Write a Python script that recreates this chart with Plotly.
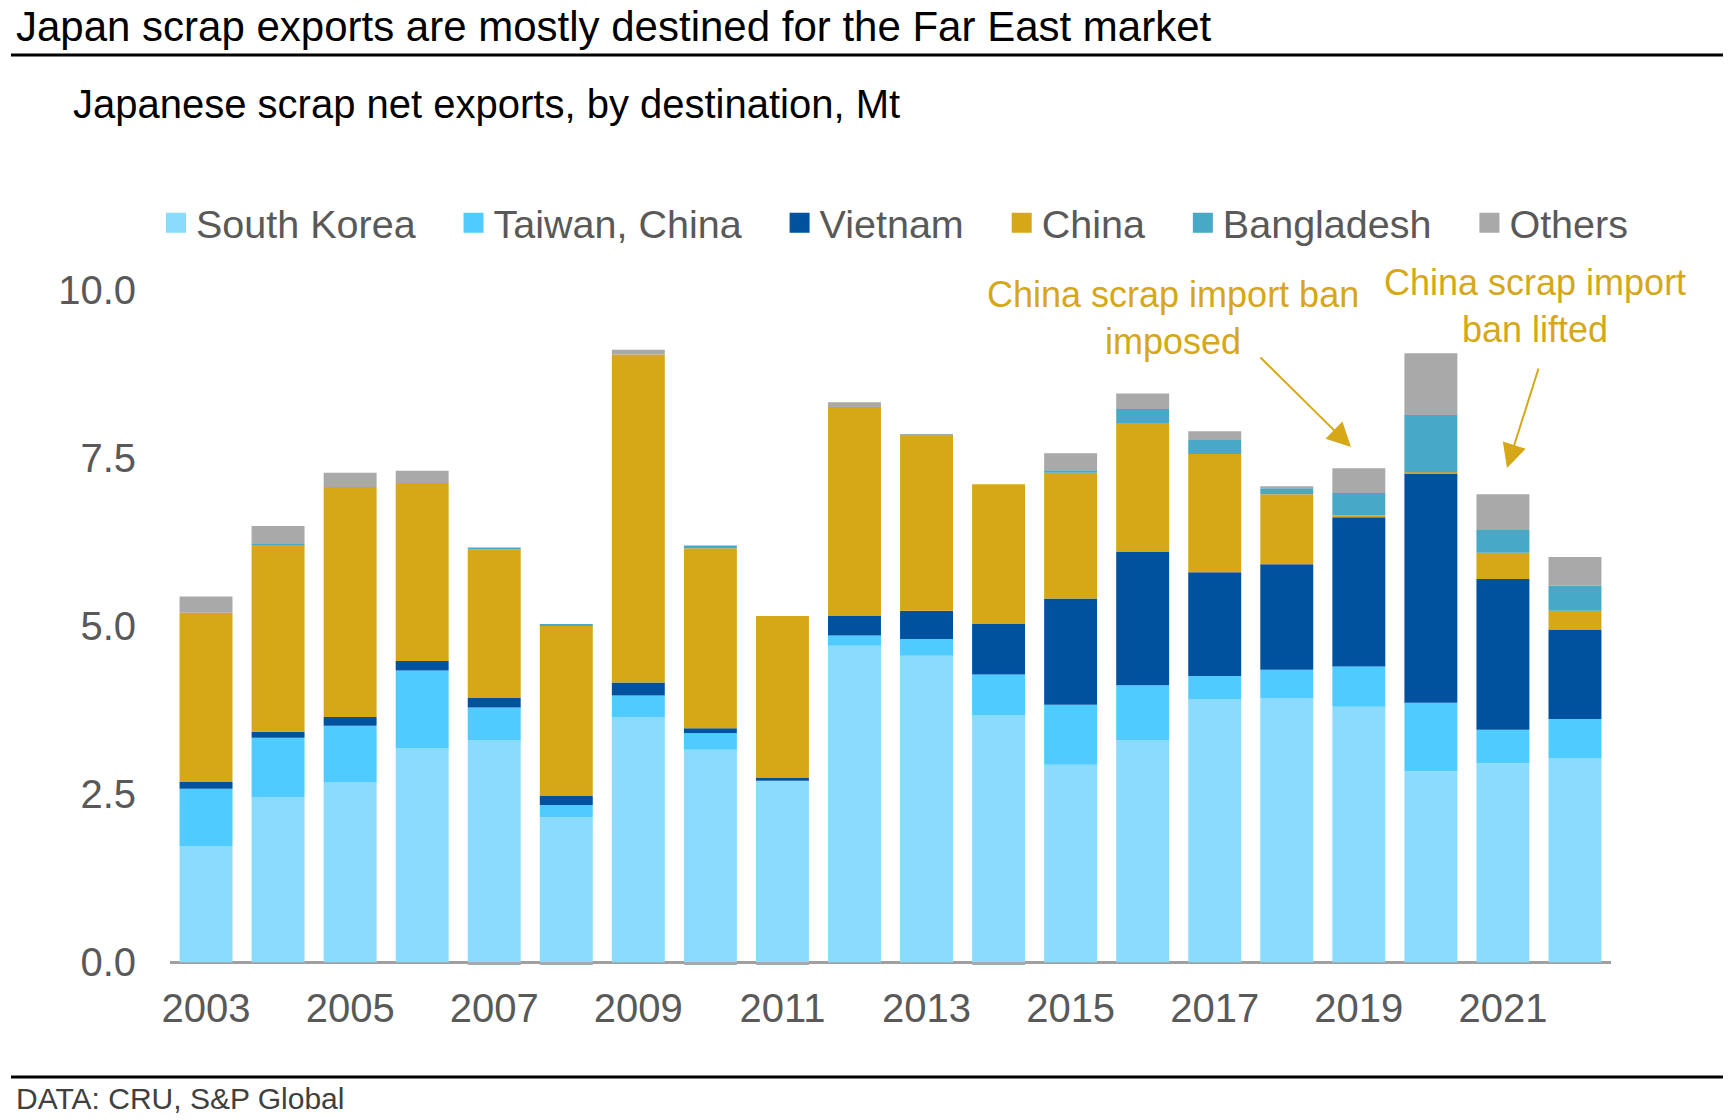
import plotly.graph_objects as go

# Japanese scrap net exports by destination, Mt
years = [str(y) for y in range(2003, 2023)]
south_korea = [1.73, 2.45, 2.68, 3.18, 3.30, 2.16, 3.64, 3.16, 2.70, 4.71,
               4.56, 3.68, 2.94, 3.30, 3.91, 3.93, 3.80, 2.84, 2.96, 3.03]
taiwan = [0.85, 0.89, 0.84, 1.16, 0.49, 0.18, 0.33, 0.25, 0.00, 0.15,
          0.25, 0.60, 0.89, 0.82, 0.35, 0.42, 0.60, 1.02, 0.50, 0.59]
vietnam = [0.10, 0.09, 0.13, 0.14, 0.15, 0.14, 0.19, 0.07, 0.05, 0.29,
           0.42, 0.75, 1.58, 1.99, 1.54, 1.57, 2.22, 3.41, 2.24, 1.33]
china = [2.52, 2.78, 3.42, 2.65, 2.20, 2.53, 4.88, 2.68, 2.40, 3.11,
         2.60, 2.08, 1.87, 1.91, 1.76, 1.04, 0.03, 0.02, 0.39, 0.28]
bangladesh = [0.00, 0.01, 0.00, 0.00, 0.03, 0.02, 0.00, 0.04, 0.00, 0.00,
              0.00, 0.00, 0.04, 0.21, 0.21, 0.09, 0.33, 0.85, 0.34, 0.37]
others = [0.24, 0.27, 0.21, 0.18, -0.04, -0.04, 0.07, -0.04, -0.04, 0.07,
          0.02, -0.04, 0.25, 0.23, 0.13, 0.03, 0.37, 0.92, 0.53, 0.43]

series = [
    ("South Korea", south_korea, "#8BDBFF"),
    ("Taiwan, China", taiwan, "#4FCBFF"),
    ("Vietnam", vietnam, "#00529F"),
    ("China", china, "#D6A717"),
    ("Bangladesh", bangladesh, "#47A9C5"),
    ("Others", others, "#A9A9A9"),
]
x_ticks = years[::2]
y_ticks = [0, 2.5, 5.0, 7.5, 10.0]

FONT = "Liberation Sans, Arial, sans-serif"
GOLD = "#D6A717"
GREY_TXT = "#595959"
PAD = "\u00a0" * 3  # extra room between legend entries

W, H = 1728, 1120
L, R, T, B = 170, 117, 290, 151


def px_x(px):
    return (px - L) / (W - L - R)


def px_y(py):
    return (H - B - py) / (H - T - B)


fig = go.Figure()
for name, vals, col in series:
    fig.add_trace(go.Bar(x=years, y=vals, name=name, marker_color=col,
                         marker_line_width=0, legendgroup=name,
                         showlegend=False))
    # legend key only: bigger square than the bar legend symbol
    fig.add_trace(go.Scatter(x=[None], y=[None], mode="markers",
                             name=name + PAD, legendgroup=name,
                             marker=dict(symbol="square", size=16, color=col,
                                         line=dict(color=col, width=4))))

fig.update_layout(
    width=W, height=H,
    margin=dict(l=L, r=R, t=T, b=B),
    barmode="relative",
    bargap=0.265,
    plot_bgcolor="white",
    paper_bgcolor="white",
    font=dict(family=FONT, color=GREY_TXT),
    legend=dict(orientation="h", x=px_x(156), xanchor="left",
                y=px_y(223), yanchor="middle", itemsizing="trace",
                font=dict(size=39.5, color=GREY_TXT),
                bgcolor="rgba(0,0,0,0)"),
    xaxis=dict(type="category", tickvals=x_ticks, showgrid=False,
               showline=False, ticks="", ticklabelstandoff=12,
               tickfont=dict(size=40, color=GREY_TXT)),
    yaxis=dict(range=[-0.1, 10.0], tickvals=y_ticks, tickformat=".1f",
               showgrid=False, zeroline=True, zerolinecolor="#A0A0A0",
               zerolinewidth=3, ticks="", ticklabelstandoff=33,
               tickfont=dict(size=40, color=GREY_TXT)),
)

# header, sub header and source
fig.add_annotation(text="Japan scrap exports are mostly destined for the Far East market",
                   xref="paper", yref="paper", x=px_x(14), y=px_y(26),
                   xanchor="left", yanchor="middle", showarrow=False,
                   font=dict(size=42, color="black"))
fig.add_annotation(text="Japanese scrap net exports, by destination, Mt",
                   xref="paper", yref="paper", x=px_x(71), y=px_y(104),
                   xanchor="left", yanchor="middle", showarrow=False,
                   font=dict(size=40, color="black"))
fig.add_annotation(text="DATA: CRU, S&P Global",
                   xref="paper", yref="paper", x=px_x(14), y=px_y(1098),
                   xanchor="left", yanchor="middle", showarrow=False,
                   font=dict(size=30, color="#404040"))
fig.add_shape(type="line", xref="paper", yref="paper",
              x0=px_x(11), x1=px_x(1723), y0=px_y(55), y1=px_y(55),
              line=dict(color="black", width=3))
fig.add_shape(type="line", xref="paper", yref="paper",
              x0=px_x(11), x1=px_x(1723), y0=px_y(1077), y1=px_y(1077),
              line=dict(color="black", width=3))

# ban notes
fig.add_annotation(text="China scrap import ban<br>imposed",
                   xref="paper", yref="paper", x=px_x(1173), y=px_y(318),
                   xanchor="center", yanchor="middle", showarrow=False,
                   font=dict(size=36, color=GOLD))
fig.add_annotation(text="China scrap import<br>ban lifted",
                   xref="paper", yref="paper", x=px_x(1535), y=px_y(306),
                   xanchor="center", yanchor="middle", showarrow=False,
                   font=dict(size=36, color=GOLD))
fig.add_annotation(text="", xref="paper", yref="paper",
                   x=px_x(1351), y=px_y(447), ax=-92, ay=-91,
                   showarrow=True, arrowhead=2, arrowsize=2.4,
                   arrowwidth=2, arrowcolor=GOLD)
fig.add_annotation(text="", xref="paper", yref="paper",
                   x=px_x(1507), y=px_y(468), ax=32, ay=-101,
                   showarrow=True, arrowhead=2, arrowsize=2.4,
                   arrowwidth=2, arrowcolor=GOLD)

# the page's default body margin would push the figure off its place
fig.write_html("out.html", config={"displayModeBar": False},
               post_script="document.body.style.margin = '0';")
